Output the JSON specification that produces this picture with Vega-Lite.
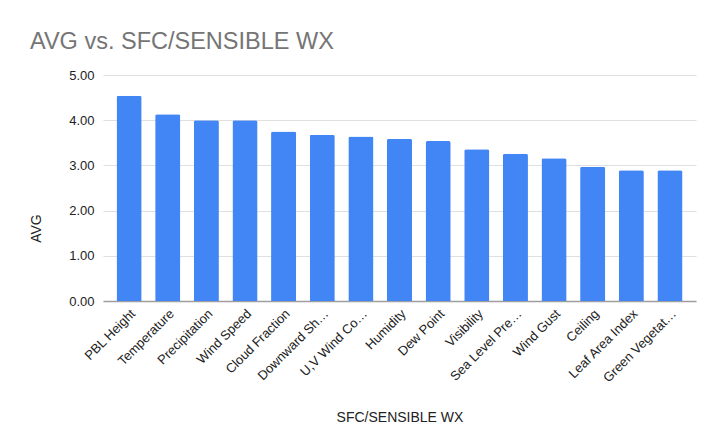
{
  "$schema": "https://vega.github.io/schema/vega-lite/v6.json",
  "width": 593,
  "height": 226,
  "autosize": {"type": "none"},
  "padding": {"left": 103, "top": 75, "right": 18, "bottom": 143},
  "background": "white",
  "title": {
    "text": "AVG vs. SFC/SENSIBLE WX",
    "anchor": "start",
    "frame": "group",
    "dx": -73,
    "offset": 16,
    "font": "Liberation Sans",
    "fontSize": 23.5,
    "fontWeight": "normal",
    "color": "#757575"
  },
  "data": {
    "values": [
      {"category": "PBL Height", "avg": 4.54},
      {"category": "Temperature", "avg": 4.13},
      {"category": "Precipitation", "avg": 4.0},
      {"category": "Wind Speed", "avg": 4.0},
      {"category": "Cloud Fraction", "avg": 3.75},
      {"category": "Downward Sh…", "avg": 3.68},
      {"category": "U,V Wind Co…", "avg": 3.64},
      {"category": "Humidity", "avg": 3.59},
      {"category": "Dew Point", "avg": 3.54},
      {"category": "Visibility", "avg": 3.36},
      {"category": "Sea Level Pre…", "avg": 3.26},
      {"category": "Wind Gust", "avg": 3.16},
      {"category": "Ceiling", "avg": 2.97},
      {"category": "Leaf Area Index", "avg": 2.89},
      {"category": "Green Vegetat…", "avg": 2.89}
    ]
  },
  "mark": {"type": "bar", "color": "#4285F4", "cornerRadiusTopLeft": 2, "cornerRadiusTopRight": 2},
  "encoding": {
    "x": {
      "field": "category",
      "type": "nominal",
      "sort": null,
      "title": "SFC/SENSIBLE WX",
      "scale": {"paddingInner": 0.35, "paddingOuter": 0.35},
      "axis": {
        "labelAngle": -45,
        "labelFont": "Liberation Sans",
        "labelFontSize": 13,
        "labelColor": "#222222",
        "labelPadding": 6,
        "labelLimit": 200,
        "ticks": false,
        "domainColor": "#9e9e9e",
        "domainWidth": 1.5,
        "titleFont": "Liberation Sans",
        "titleFontSize": 14,
        "titleFontWeight": "normal",
        "titleColor": "#222222",
        "titleY": 109
      }
    },
    "y": {
      "field": "avg",
      "type": "quantitative",
      "title": "AVG",
      "scale": {"domain": [0, 5]},
      "axis": {
        "values": [0, 1, 2, 3, 4, 5],
        "format": ".2f",
        "labelFont": "Liberation Sans",
        "labelFontSize": 13,
        "labelColor": "#222222",
        "labelPadding": 9,
        "ticks": false,
        "domain": false,
        "gridColor": "#e0e0e0",
        "gridWidth": 1.2,
        "titleFont": "Liberation Sans",
        "titleFontSize": 14,
        "titleFontWeight": "normal",
        "titleColor": "#222222",
        "titleX": -60,
        "titleY": 153
      }
    }
  },
  "config": {"view": {"stroke": null}}
}
